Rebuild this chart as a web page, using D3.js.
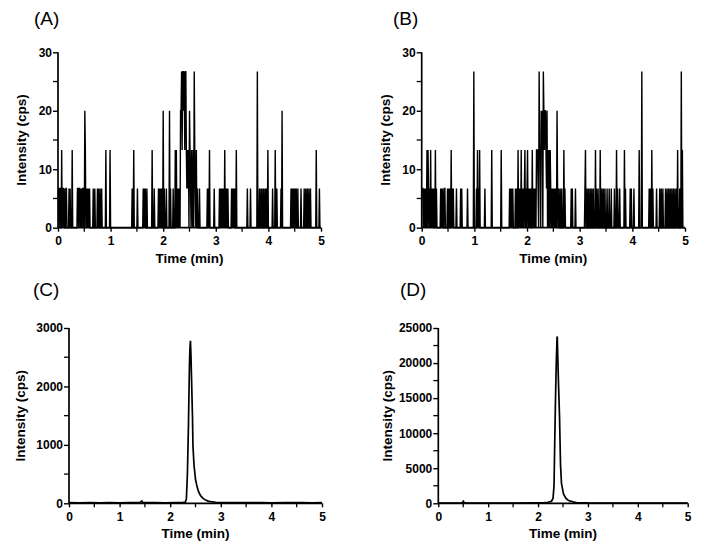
<!DOCTYPE html>
<html>
<head>
<meta charset="utf-8">
<script src="https://cdn.jsdelivr.net/npm/d3@7"></script>
<style>
  html, body { margin: 0; padding: 0; background: #fff; }
  svg { display: block; }
  text { font-family: "Liberation Sans", Arial, sans-serif; fill: #000; }
</style>
</head>
<body>
<svg id="chart" width="705" height="553"></svg>
<script>
// ---------- data ----------
// Panels A and B: noise events, [time (min), intensity (cps)], zero elsewhere
const eventsA = [
  [0.00,6.7],[0.01,6.7],[0.03,6.7],[0.04,6.7],[0.07,13.3],[0.09,6.7],[0.10,6.7],[0.12,6.7],[0.15,6.7],[0.16,6.7],
  [0.21,6.7],[0.23,6.7],[0.27,13.3],[0.37,6.7],[0.38,6.7],[0.40,6.7],[0.41,6.7],[0.43,6.7],[0.45,6.7],[0.47,6.7],
  [0.48,6.7],[0.51,20],[0.52,13.3],[0.54,6.7],[0.56,6.7],[0.58,6.7],[0.60,6.7],[0.67,6.7],[0.70,6.7],[0.75,6.7],
  [0.77,6.7],[0.80,6.7],[0.83,6.7],[0.91,13.3],[0.99,13.3],
  [1.41,6.7],[1.44,13.3],[1.51,6.7],[1.62,6.7],[1.64,6.7],[1.66,6.7],[1.69,6.7],[1.79,13.3],[1.83,6.7],[1.91,6.7],
  [1.93,6.7],[1.95,6.7],[1.97,6.7],[2.00,20],[2.02,6.7],[2.06,6.7],[2.12,20],[2.14,6.7],[2.19,6.7],[2.23,13.3],
  [2.25,13.3],[2.27,6.7],[2.29,6.7],[2.31,6.7],[2.33,20],[2.34,20],[2.35,26.7],[2.36,13.3],[2.37,26.7],[2.38,26.7],
  [2.39,20],[2.40,26.7],[2.41,13.3],[2.42,26.7],[2.43,26.7],[2.44,13.3],[2.45,6.7],[2.46,13.3],[2.47,6.7],[2.48,13.3],
  [2.50,20],[2.51,13.3],[2.52,6.7],[2.54,13.3],[2.55,6.7],[2.57,13.3],[2.59,26.7],[2.60,13.3],[2.61,6.7],[2.63,13.3],
  [2.65,6.7],[2.69,6.7],[2.84,6.7],[2.86,6.7],[2.88,13.3],[2.97,6.7],[3.07,6.7],[3.09,6.7],[3.11,6.7],[3.13,6.7],
  [3.15,6.7],[3.17,13.3],[3.19,6.7],[3.21,6.7],[3.23,6.7],[3.30,6.7],[3.32,6.7],[3.34,6.7],[3.36,6.7],[3.39,13.3],
  [3.60,6.7],[3.66,6.7],[3.79,26.7],[3.83,6.7],[3.86,6.7],[3.88,6.7],[3.91,6.7],[3.94,6.7],[3.96,6.7],[3.99,13.3],
  [4.08,6.7],[4.13,13.3],[4.16,6.7],[4.24,6.7],[4.26,20],[4.43,6.7],[4.45,6.7],[4.47,6.7],[4.49,6.7],[4.51,6.7],
  [4.53,6.7],[4.56,6.7],[4.62,6.7],[4.68,6.7],[4.71,6.7],[4.74,6.7],[4.77,6.7],[4.80,6.7],[4.91,13.3],[4.97,6.7]
];
const eventsB = [
  [0.00,6.7],[0.01,6.7],[0.02,6.7],[0.04,6.7],[0.06,6.7],[0.08,6.7],[0.10,13.3],[0.12,13.3],[0.13,6.7],[0.15,6.7],
  [0.17,13.3],[0.19,6.7],[0.21,6.7],[0.23,6.7],[0.26,13.3],[0.28,6.7],[0.36,6.7],[0.38,6.7],[0.40,6.7],[0.43,6.7],
  [0.44,6.7],[0.49,6.7],[0.51,6.7],[0.53,6.7],[0.56,13.3],[0.58,6.7],[0.60,6.7],[0.66,6.7],[0.74,6.7],[0.76,6.7],
  [0.87,6.7],[0.99,26.7],[1.04,6.7],[1.06,13.3],[1.08,6.7],[1.10,13.3],[1.20,6.7],[1.33,13.3],[1.51,13.3],
  [1.67,6.7],[1.69,6.7],[1.71,6.7],[1.73,6.7],[1.78,6.7],[1.80,6.7],[1.83,13.3],[1.85,6.7],[1.87,6.7],[1.89,13.3],
  [1.91,6.7],[1.93,6.7],[1.95,6.7],[1.96,13.3],[1.98,6.7],[2.00,6.7],[2.01,13.3],[2.03,6.7],[2.05,6.7],[2.07,6.7],
  [2.10,13.3],[2.12,6.7],[2.14,6.7],[2.16,6.7],[2.18,13.3],[2.19,13.3],[2.20,13.3],[2.21,6.7],[2.23,26.7],[2.24,13.3],
  [2.25,13.3],[2.27,20],[2.28,13.3],[2.29,20],[2.31,26.7],[2.32,20],[2.33,13.3],[2.34,20],[2.35,20],[2.36,13.3],
  [2.37,6.7],[2.38,20],[2.40,13.3],[2.42,13.3],[2.44,13.3],[2.45,6.7],[2.47,6.7],[2.49,6.7],[2.51,6.7],[2.53,6.7],
  [2.55,6.7],[2.57,20],[2.58,6.7],[2.60,6.7],[2.63,6.7],[2.66,6.7],[2.70,13.3],[2.72,6.7],[2.84,6.7],[2.86,6.7],
  [2.92,6.7],[3.10,6.7],[3.11,13.3],[3.14,6.7],[3.17,6.7],[3.20,6.7],[3.23,6.7],[3.26,6.7],[3.30,13.3],[3.32,6.7],
  [3.35,6.7],[3.39,13.3],[3.42,6.7],[3.45,6.7],[3.48,6.7],[3.52,6.7],[3.56,6.7],[3.60,6.7],[3.66,6.7],[3.70,13.3],
  [3.72,6.7],[3.76,6.7],[3.85,13.3],[3.87,6.7],[3.96,6.7],[3.98,6.7],[4.03,6.7],[4.13,13.3],[4.18,26.7],[4.32,6.7],
  [4.34,6.7],[4.37,13.3],[4.39,6.7],[4.46,6.7],[4.52,6.7],[4.55,6.7],[4.58,6.7],[4.63,6.7],[4.66,6.7],[4.69,6.7],
  [4.72,6.7],[4.75,6.7],[4.78,6.7],[4.81,6.7],[4.84,6.7],[4.86,13.3],[4.90,6.7],[4.93,26.7],[4.95,13.3]
];
// Panel C: chromatogram points
const timeC = [0,0.2,0.4,0.6,0.8,1.0,1.2,1.4,1.44,1.46,1.5,1.7,1.9,2.1,2.25,2.30,2.32,2.34,2.36,2.38,2.39,2.40,2.41,
  2.42,2.43,2.44,2.45,2.47,2.50,2.53,2.56,2.60,2.65,2.70,2.75,2.80,2.90,3.0,3.2,3.5,3.8,4.0,4.3,4.6,4.8,5.0];
const valC  = [10,8,12,9,10,8,11,10,40,12,10,12,9,14,15,20,80,500,1300,2350,2650,2780,2550,
  2200,1850,1500,980,660,410,290,200,130,85,55,38,28,18,14,12,10,11,9,10,12,9,10];
// Panel D: chromatogram points
const timeD = [0,0.2,0.4,0.48,0.50,0.52,0.56,0.8,1.0,1.5,1.9,2.1,2.2,2.27,2.30,2.32,2.335,2.35,2.365,2.38,2.385,
  2.395,2.41,2.43,2.45,2.47,2.51,2.56,2.61,2.70,2.77,2.90,3.0,3.5,4.0,4.5,5.0];
const valD  = [40,40,40,60,300,120,50,40,40,40,50,80,150,300,700,2500,9000,15000,20000,23500,23800,
  21000,17000,12500,5500,2800,1340,700,400,200,110,70,50,40,40,40,40];

const xTicks = [0,1,2,3,4,5];
const yTicksAB = [0,10,20,30];
const yTicksC = [0,1000,2000,3000];
const yTicksD = [0,5000,10000,15000,20000,25000];
const panelLabels = ["(A)","(B)","(C)","(D)"];
const xTitle = "Time (min)";
const yTitle = "Intensity (cps)";

// ---------- helpers ----------
function eventsToSeries(ev) {
  const m = new Map(ev.map(d => [Math.round(d[0]*100), d[1]]));
  const out = [];
  for (let i = 0; i <= 500; i++) out.push([i/100, m.has(i) ? m.get(i) : 0]);
  return out;
}

const svg = d3.select("#chart");

const panels = [
  { label: panelLabels[0], lx: 34, ly: 25, data: eventsToSeries(eventsA), x0: 58, x1: 321, y0: 227.7, y1: 52.3,
    yMax: 30, yTicks: yTicksAB, yMinor: 5, ytx: 21, sw: 1.4 },
  { label: panelLabels[1], lx: 393, ly: 25, data: eventsToSeries(eventsB), x0: 421.7, x1: 685, y0: 227.7, y1: 52.3,
    yMax: 30, yTicks: yTicksAB, yMinor: 5, ytx: 385, sw: 1.4 },
  { label: panelLabels[2], lx: 33, ly: 296, data: timeC.map((t,i)=>[t,valC[i]]), x0: 69, x1: 322, y0: 503.3, y1: 328,
    yMax: 3000, yTicks: yTicksC, yMinor: 500, ytx: 20, sw: 1.7 },
  { label: panelLabels[3], lx: 400, ly: 296, data: timeD.map((t,i)=>[t,valD[i]]), x0: 438.3, x1: 687.7, y0: 503.3, y1: 328,
    yMax: 25000, yTicks: yTicksD, yMinor: 2500, ytx: 387, sw: 1.7 }
];

panels.forEach(p => {
  const x = d3.scaleLinear().domain([0,5]).range([p.x0, p.x1]);
  const y = d3.scaleLinear().domain([0,p.yMax]).range([p.y0, p.y1]);
  const g = svg.append("g");

  // data line
  g.append("path")
    .datum(p.data)
    .attr("fill", "none")
    .attr("stroke", "#000")
    .attr("stroke-width", p.sw)
    .attr("stroke-linejoin", "miter")
    .attr("d", d3.line().x(d => x(d[0])).y(d => y(d[1])));

  // x axis with minor ticks
  const xMinor = d3.range(0.5, 5, 1);
  const xAxisG = g.append("g").attr("transform", `translate(0,${p.y0})`);
  xAxisG.call(d3.axisBottom(x).tickValues(xTicks).tickFormat(d3.format("d")).tickSize(4).tickPadding(5));
  xAxisG.append("g").selectAll("line").data(xMinor).join("line")
    .attr("x1", d => x(d)).attr("x2", d => x(d)).attr("y1", 0).attr("y2", 4)
    .attr("stroke", "#000").attr("stroke-width", 1.3);

  const yAxisG = g.append("g").attr("transform", `translate(${p.x0},0)`);
  yAxisG.call(d3.axisLeft(y).tickValues(p.yTicks).tickFormat(d3.format("d")).tickSize(5).tickPadding(1));
  const yMinorVals = d3.range(p.yMinor, p.yMax, p.yMinor * 2);
  yAxisG.append("g").selectAll("line").data(yMinorVals).join("line")
    .attr("x1", 0).attr("x2", -5).attr("y1", d => y(d)).attr("y2", d => y(d))
    .attr("stroke", "#000").attr("stroke-width", 1.3);

  [xAxisG, yAxisG].forEach(a => {
    a.select(".domain").attr("stroke", "#000").attr("stroke-width", 1.7)
      .attr("d", a === xAxisG ? `M${p.x0},0H${p.x1}` : `M0,${p.y0}V${p.y1}`);
    a.selectAll(".tick line").attr("stroke", "#000").attr("stroke-width", 1.4);
    a.selectAll(".tick text").attr("font-family", "Liberation Sans, Arial, sans-serif")
      .attr("font-size", 12).attr("font-weight", "bold").attr("fill", "#000");
  });

  // axis titles
  g.append("text")
    .attr("x", (p.x0 + p.x1) / 2).attr("y", p.y0 + 35)
    .attr("text-anchor", "middle").attr("font-size", 13.5).attr("font-weight", "bold")
    .text(xTitle);
  g.append("text")
    .attr("transform", `translate(${p.ytx + 5},${(p.y0 + p.y1) / 2}) rotate(-90)`)
    .attr("text-anchor", "middle").attr("font-size", 13.5).attr("font-weight", "bold")
    .text(yTitle);

  // panel label
  g.append("text").attr("x", p.lx).attr("y", p.ly).attr("font-size", 19).text(p.label);
});
</script>
</body>
</html>
